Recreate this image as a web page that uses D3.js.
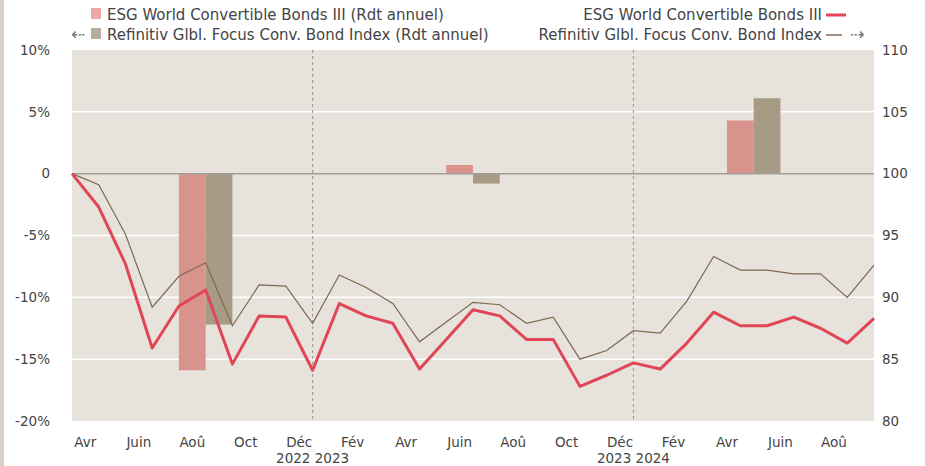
<!DOCTYPE html>
<html lang="fr">
<head>
<meta charset="UTF-8">
<title>ESG World Convertible Bonds III</title>
<script src="https://d3js.org/d3.v7.min.js"></script>
<style>
    body { margin: 0; background: #fff; }
    .axis text { font-family: "DejaVu Sans", Verdana, sans-serif; font-size: 13.5px; fill: #444; }
    .legend text { font-family: "DejaVu Sans", Verdana, sans-serif; font-size: 15px; fill: #444; }
    .legend .arrow { font-size: 17px; fill: #777; }
</style>
</head>
<body>
<svg id="chart" width="925" height="466"></svg>
<script>
// month labels (one every two months, month index of the label)
const monthLabels = ["Avr", "Juin", "Aoû", "Oct", "Déc", "Fév", "Avr", "Juin", "Aoû", "Oct", "Déc", "Fév", "Avr", "Juin", "Aoû"];
const monthLabelIdx = [0, 2, 4, 6, 8, 10, 12, 14, 16, 18, 20, 22, 24, 26, 28];
const yearLabels = ["2022 2023", "2023 2024"];
const yearBreaks = [9, 21];

// base 100 lines (monthly)
const esgLine = [100, 97.3, 92.7, 85.9, 89.3, 90.6, 84.6, 88.5, 88.4, 84.1, 89.5, 88.5, 87.9, 84.2, 86.6, 89.0,
    88.5, 86.6, 86.6, 82.8, 83.7, 84.7, 84.2, 86.3, 88.8, 87.7, 87.7, 88.4, 87.5, 86.3, 88.3];
const refLine = [100, 99.1, 95.1, 89.2, 91.7, 92.8, 87.7, 91.0, 90.9, 87.9, 91.8, 90.8, 89.5, 86.4, 88.0, 89.6,
    89.4, 87.9, 88.4, 85.0, 85.7, 87.3, 87.1, 89.7, 93.3, 92.2, 92.2, 91.9, 91.9, 90.0, 92.6];

// annual returns (%)
const barPos = [5, 15, 25.5];
const esgAnnual = [-15.9, 0.7, 4.3];
const refAnnual = [-12.2, -0.8, 6.1];

const leftTicks = [10, 5, 0, -5, -10, -15, -20];
const rightTicks = [110, 105, 100, 95, 90, 85, 80];

const colors = {
    plotBg: "#e7e2db",
    esg: "#e04656",
    esgBar: "#d9938d",
    ref: "#7d6a50",
    refBar: "#a89b85",
    zero: "#a39d97",
    dash: "#9a9690"
};

const svg = d3.select("#chart"),
    width = +svg.attr("width"),
    height = +svg.attr("height"),
    margin = { top: 50, right: 51, bottom: 45, left: 72 },
    plotW = width - margin.left - margin.right,
    plotH = height - margin.top - margin.bottom;

// left strip
svg.append("rect").attr("x", 0).attr("y", 0).attr("width", 4).attr("height", height).attr("fill", "#d8cfc8");

const x = d3.scaleLinear().domain([0, esgLine.length - 1]).range([0, plotW]);
const yPct = d3.scaleLinear().domain([-20, 10]).range([plotH, 0]);
const yIdx = d3.scaleLinear().domain([80, 110]).range([plotH, 0]);

const g = svg.append("g").attr("transform", "translate(" + margin.left + "," + margin.top + ")");

g.append("rect").attr("width", plotW).attr("height", plotH).attr("fill", colors.plotBg);

// grid lines
g.selectAll(".grid")
    .data(leftTicks.filter(d => d !== 0 && d !== 10 && d !== -20))
    .enter().append("line")
    .attr("x1", 0).attr("x2", plotW)
    .attr("y1", d => yPct(d)).attr("y2", d => yPct(d))
    .attr("stroke", "#fff").attr("stroke-width", 1.5);

// year separators
g.selectAll(".sep")
    .data(yearBreaks)
    .enter().append("line")
    .attr("x1", d => x(d)).attr("x2", d => x(d))
    .attr("y1", 0).attr("y2", plotH)
    .attr("stroke", colors.dash).attr("stroke-width", 1)
    .attr("stroke-dasharray", "3,3");

// bars
const step = x(1) - x(0);
g.selectAll(".esgBar")
    .data(barPos.map((p, i) => ({ p, v: esgAnnual[i] })))
    .enter().append("rect")
    .attr("x", d => x(d.p - 1))
    .attr("width", step)
    .attr("y", d => yPct(Math.max(0, d.v)))
    .attr("height", d => Math.abs(yPct(d.v) - yPct(0)))
    .attr("fill", colors.esgBar);

g.selectAll(".refBar")
    .data(barPos.map((p, i) => ({ p, v: refAnnual[i] })))
    .enter().append("rect")
    .attr("x", d => x(d.p))
    .attr("width", step)
    .attr("y", d => yPct(Math.max(0, d.v)))
    .attr("height", d => Math.abs(yPct(d.v) - yPct(0)))
    .attr("fill", colors.refBar);

// zero line
g.append("line")
    .attr("x1", 0).attr("x2", plotW)
    .attr("y1", yPct(0)).attr("y2", yPct(0))
    .attr("stroke", colors.zero).attr("stroke-width", 1.5);

// lines
const line = d3.line().x((d, i) => x(i)).y(d => yIdx(d));
g.append("path").datum(refLine).attr("d", line)
    .attr("fill", "none").attr("stroke", colors.ref).attr("stroke-width", 1.2);
g.append("path").datum(esgLine).attr("d", line)
    .attr("fill", "none").attr("stroke", colors.esg).attr("stroke-width", 3)
    .attr("stroke-linejoin", "round");

// axes
const leftAxis = g.append("g").attr("class", "axis");
leftAxis.selectAll("text")
    .data(leftTicks)
    .enter().append("text")
    .attr("x", -22).attr("y", d => yPct(d)).attr("dy", "0.35em")
    .attr("text-anchor", "end")
    .text(d => d === 0 ? "0" : d + "%");

const rightAxis = g.append("g").attr("class", "axis");
rightAxis.selectAll("text")
    .data(rightTicks)
    .enter().append("text")
    .attr("x", plotW + 8).attr("y", d => yIdx(d)).attr("dy", "0.35em")
    .attr("text-anchor", "start")
    .text(d => d);

const bottomAxis = g.append("g").attr("class", "axis");
bottomAxis.selectAll(".month")
    .data(monthLabels)
    .enter().append("text")
    .attr("x", (d, i) => x(monthLabelIdx[i] + 0.5))
    .attr("y", plotH + 26)
    .attr("text-anchor", "middle")
    .text(d => d);
bottomAxis.selectAll(".year")
    .data(yearLabels)
    .enter().append("text")
    .attr("x", (d, i) => x(yearBreaks[i]))
    .attr("y", plotH + 42)
    .attr("text-anchor", "middle")
    .text(d => d);

// legend
const legend = svg.append("g").attr("class", "legend");
legend.append("rect").attr("x", 91).attr("y", 8).attr("width", 10).attr("height", 11).attr("fill", "#eea7a4");
legend.append("text").attr("x", 107).attr("y", 19.5).text("ESG World Convertible Bonds III (Rdt annuel)");
legend.append("text").attr("class", "arrow").attr("x", 71).attr("y", 39.5).text("⇠");
legend.append("rect").attr("x", 91).attr("y", 28).attr("width", 10).attr("height", 11).attr("fill", "#b9ae9b");
legend.append("text").attr("x", 107).attr("y", 39.5).text("Refinitiv Glbl. Focus Conv. Bond Index (Rdt annuel)");

legend.append("text").attr("x", 822).attr("y", 19.5).attr("text-anchor", "end").text("ESG World Convertible Bonds III");
legend.append("line").attr("x1", 826).attr("x2", 846).attr("y1", 15).attr("y2", 15)
    .attr("stroke", colors.esg).attr("stroke-width", 3);
legend.append("text").attr("x", 822).attr("y", 39.5).attr("text-anchor", "end").text("Refinitiv Glbl. Focus Conv. Bond Index");
legend.append("line").attr("x1", 826).attr("x2", 842).attr("y1", 35).attr("y2", 35)
    .attr("stroke", colors.ref).attr("stroke-width", 1.5);
legend.append("text").attr("class", "arrow").attr("x", 850).attr("y", 39.5).text("⇢");
</script>
</body>
</html>
